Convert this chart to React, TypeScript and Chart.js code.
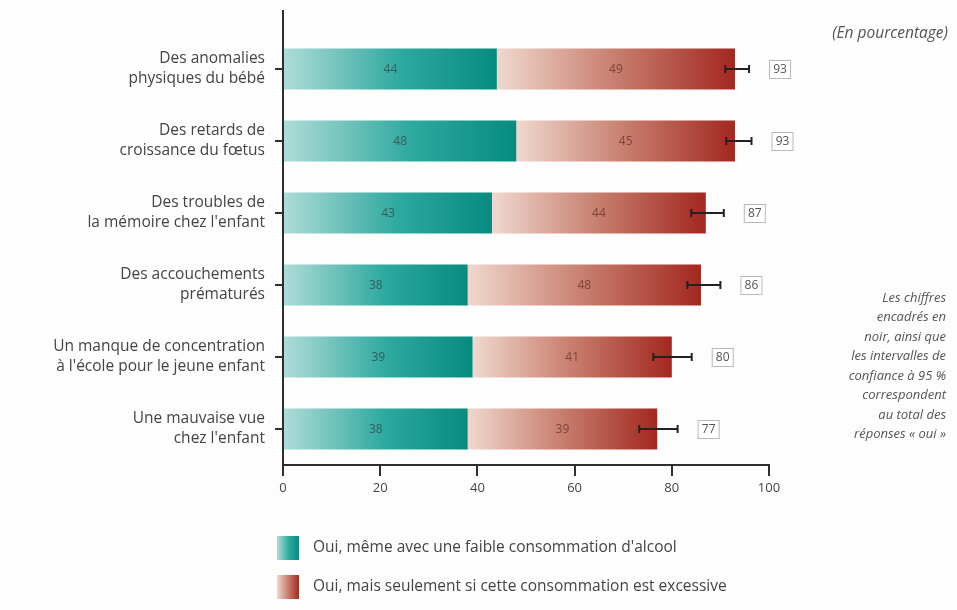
import React, { useEffect, useRef } from "react";
import { Chart, registerables } from "chart.js";

Chart.register(...registerables);

const categories: string[][] = [
  ["Des anomalies", "physiques du bébé"],
  ["Des retards de", "croissance du fœtus"],
  ["Des troubles de", "la mémoire chez l'enfant"],
  ["Des accouchements", "prématurés"],
  ["Un manque de concentration", "à l'école pour le jeune enfant"],
  ["Une mauvaise vue", "chez l'enfant"],
];
const lowConsumption = [44, 48, 43, 38, 39, 38];
const excessiveOnly = [49, 45, 44, 48, 41, 39];
const totals = [93, 93, 87, 86, 80, 77];
const ciLower = [91, 91.2, 84, 83.2, 76.2, 73.3];
const ciUpper = [95.9, 96.4, 90.7, 90, 84.1, 81.2];
const xTicks = [0, 20, 40, 60, 80, 100];
const seriesNames = [
  "Oui, même avec une faible consommation d'alcool",
  "Oui, mais seulement si cette consommation est excessive",
];
const unitNote = "(En pourcentage)";
const sideNote = [
  "Les chiffres",
  "encadrés en",
  "noir, ainsi que",
  "les intervalles de",
  "confiance à 95 %",
  "correspondent",
  "au total des",
  "réponses « oui »",
];

const FONT = "'Open Sans', 'Noto Sans', sans-serif";
const TEAL_STOPS: [number, string][] = [
  [0, "#b0dcd8"],
  [0.55, "#2ea99f"],
  [1, "#078b80"],
];
const RED_STOPS: [number, string][] = [
  [0, "#f0d8ce"],
  [0.45, "#cb8677"],
  [1, "#a3281f"],
];

function makeGradient(ctx: CanvasRenderingContext2D, x0: number, x1: number, stops: [number, string][], fallback: string) {
  if (!isFinite(x0) || !isFinite(x1) || x0 === x1) return fallback;
  const g = ctx.createLinearGradient(x0, 0, x1, 0);
  stops.forEach(([o, c]) => g.addColorStop(o, c));
  return g;
}

export default function App() {
  const canvasRef = useRef<HTMLCanvasElement | null>(null);

  useEffect(() => {
    const canvas = canvasRef.current;
    if (!canvas) return;

    const overlay = {
      id: "overlay",
      beforeDraw(chart: any) {
        const { ctx } = chart;
        ctx.save();
        ctx.fillStyle = "#fdfdfd";
        ctx.fillRect(0, 0, chart.width, chart.height);
        ctx.restore();
      },
      afterDatasetsDraw(chart: any) {
        const { ctx, scales, chartArea } = chart;
        const xs = scales.x;
        const ys = scales.y;
        ctx.save();
        ctx.font = `12px ${FONT}`;
        ctx.textAlign = "center";
        ctx.textBaseline = "middle";
        [0, 1].forEach((di) => {
          const meta = chart.getDatasetMeta(di);
          meta.data.forEach((el: any, i: number) => {
            const v = di === 0 ? lowConsumption[i] : excessiveOnly[i];
            ctx.fillStyle = di === 0 ? "#335f5a" : "#7e4337";
            ctx.fillText(String(v), (el.x + el.base) / 2, el.y + 1);
          });
        });
        ctx.strokeStyle = "#2e2e2e";
        ctx.lineWidth = 2;
        ctx.beginPath();
        ctx.moveTo(chartArea.left, chartArea.top - 23);
        ctx.lineTo(chartArea.left, chartArea.bottom);
        ctx.stroke();
        totals.forEach((t, i) => {
          const y = ys.getPixelForValue(i);
          const xl = xs.getPixelForValue(ciLower[i]);
          const xu = xs.getPixelForValue(ciUpper[i]);
          ctx.strokeStyle = "#222";
          ctx.lineWidth = 2;
          ctx.beginPath();
          ctx.moveTo(xl, y);
          ctx.lineTo(xu, y);
          ctx.moveTo(xl, y - 4);
          ctx.lineTo(xl, y + 4);
          ctx.moveTo(xu, y - 4);
          ctx.lineTo(xu, y + 4);
          ctx.stroke();
          const bx = xu + 20;
          const bw = 21;
          const bh = 18;
          ctx.lineWidth = 1;
          ctx.strokeStyle = "#b8b8b8";
          ctx.fillStyle = "#fff";
          ctx.fillRect(bx, y - bh / 2, bw, bh);
          ctx.strokeRect(bx + 0.5, y - bh / 2 + 0.5, bw, bh);
          ctx.fillStyle = "#555";
          ctx.font = `12px ${FONT}`;
          ctx.textAlign = "center";
          ctx.textBaseline = "middle";
          ctx.fillText(String(t), bx + bw / 2 + 0.5, y + 1);
        });
        ctx.restore();
      },
      afterDraw(chart: any) {
        const { ctx, chartArea } = chart;
        ctx.save();
        ctx.fillStyle = "#555";
        ctx.textAlign = "right";
        ctx.textBaseline = "middle";
        ctx.font = `italic 15.5px ${FONT}`;
        ctx.fillText(unitNote, 948, 34);
        ctx.font = `italic 13px ${FONT}`;
        sideNote.forEach((line, k) => {
          ctx.fillText(line, 946, 298 + k * 19.5);
        });
        const lx = chartArea.left - 6;
        const rows = [548, 587];
        rows.forEach((cy, k) => {
          const g = makeGradient(ctx, lx, lx + 22, k === 0 ? TEAL_STOPS : RED_STOPS, "#888");
          ctx.fillStyle = g;
          ctx.fillRect(lx, cy - 12, 22, 24);
          ctx.fillStyle = "#444";
          ctx.font = `15.5px ${FONT}`;
          ctx.textAlign = "left";
          ctx.fillText(seriesNames[k], lx + 36, cy);
        });
        ctx.restore();
      },
    };

    const chart = new Chart(canvas, {
      type: "bar",
      data: {
        labels: categories,
        datasets: [
          {
            label: seriesNames[0],
            data: lowConsumption,
            backgroundColor: (c: any) => {
              const xs = c.chart.scales?.x;
              if (!xs || c.type !== "data") return "#1aa197";
              const i = c.dataIndex;
              return makeGradient(c.chart.ctx, xs.getPixelForValue(0), xs.getPixelForValue(lowConsumption[i]), TEAL_STOPS, "#1aa197");
            },
            borderWidth: 0,
            barPercentage: 0.57,
            categoryPercentage: 1,
          },
          {
            label: seriesNames[1],
            data: excessiveOnly,
            backgroundColor: (c: any) => {
              const xs = c.chart.scales?.x;
              if (!xs || c.type !== "data") return "#c0584c";
              const i = c.dataIndex;
              const s = lowConsumption[i];
              return makeGradient(c.chart.ctx, xs.getPixelForValue(s), xs.getPixelForValue(s + excessiveOnly[i]), RED_STOPS, "#c0584c");
            },
            borderWidth: 0,
            barPercentage: 0.57,
            categoryPercentage: 1,
          },
        ],
      },
      options: {
        indexAxis: "y",
        animation: false,
        responsive: true,
        maintainAspectRatio: false,
        layout: { padding: { left: 8, right: 188, top: 33, bottom: 110 } },
        plugins: {
          legend: { display: false },
          tooltip: { enabled: false },
          title: { display: false },
        },
        scales: {
          x: {
            type: "linear",
            stacked: true,
            min: 0,
            max: 100,
            afterBuildTicks: (scale: any) => {
              scale.ticks = xTicks.map((v) => ({ value: v }));
            },
            afterFit: (scale: any) => {
              scale.height = 35;
            },
            grid: {
              drawOnChartArea: false,
              drawTicks: true,
              tickLength: 11,
              color: "#2e2e2e",
              lineWidth: 2,
            },
            border: { display: true, color: "#2e2e2e", width: 2 },
            ticks: {
              color: "#444",
              padding: 4,
              font: { family: FONT, size: 13 },
            },
          },
          y: {
            type: "category",
            stacked: true,
            afterFit: (scale: any) => {
              scale.width = 275;
            },
            grid: {
              offset: false,
              drawOnChartArea: false,
              drawTicks: true,
              tickLength: 8,
              color: "#2e2e2e",
              lineWidth: 2,
            },
            border: { display: false },
            ticks: {
              color: "#444",
              padding: 10,
              font: { family: FONT, size: 15.5, lineHeight: 1.3 },
            },
          },
        },
      },
      plugins: [overlay],
    } as any);

    return () => chart.destroy();
  }, []);

  return (
    <div style={{ position: "absolute", left: 0, top: 0, width: 957, height: 610 }}>
      <canvas ref={canvasRef} />
    </div>
  );
}
